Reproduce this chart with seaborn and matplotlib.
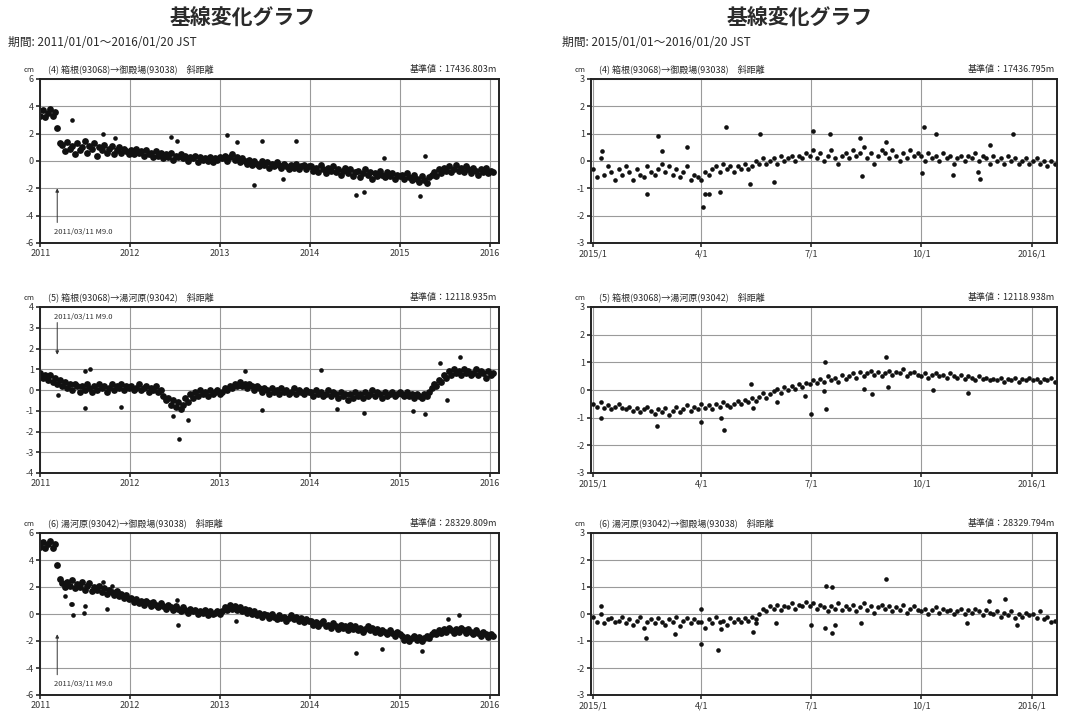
import numpy as np
import pandas as pd
import matplotlib
matplotlib.use("Agg")
import matplotlib.pyplot as plt
import seaborn as sns

# ---------------- data ----------------
TITLE = "基線変化グラフ"
PERIOD_LEFT = "期間: 2011/01/01～2016/01/20 JST"
PERIOD_RIGHT = "期間: 2015/01/01～2016/01/20 JST"

panel_names = ["(4) 箱根(93068)→御殿場(93038)　斜距離",
               "(5) 箱根(93068)→湯河原(93042)　斜距離",
               "(6) 湯河原(93042)→御殿場(93038)　斜距離"]
base_left = ["基準値：17436.803m", "基準値：12118.935m", "基準値：28329.809m"]
base_right = ["基準値：17436.795m", "基準値：12118.938m", "基準値：28329.794m"]

quake_label = "2011/03/11 M9.0"
quake_date = "2011-03-11"

year_ticks = ["2011", "2012", "2013", "2014", "2015", "2016"]
month_ticks = ["2015-01-01", "2015-04-01", "2015-07-01", "2015-10-01", "2016-01-01"]
month_labels = ["2015/1", "4/1", "7/1", "10/1", "2016/1"]

# left panels: one value every 10 days from 2011-01-01 (cm)
long_4 = [3.3, 3.7, 3.2, 3.5, 3.8, 3.3, 3.6, 2.4, 1.3,
          1.2, 0.7, 1.4, 0.9, 1.1, 0.5, 1.3, 0.8, 1.0, 1.5, 0.6, 1.1, 0.9, 1.3, 0.4,
          1.0, 0.8, 1.2, 0.6, 0.9, 1.1, 0.5, 0.8, 1.0, 0.6, 0.9, 0.7, 0.5,
          0.8, 0.5, 0.9, 0.6, 0.7, 0.4, 0.8, 0.5, 0.6, 0.3, 0.7, 0.4, 0.6, 0.2, 0.5,
          0.3, 0.6, 0.1, 0.4, 0.3, 0.5, 0.2, 0.4, 0.0, 0.3, 0.2, 0.4, -0.1, 0.3, 0.1,
          0.2, 0.0, 0.3, -0.1, 0.2, 0.1, 0.3,
          0.2, 0.4, 0.0, 0.3, 0.5, 0.1, 0.3, -0.1, 0.2, 0.0, -0.2, 0.1, -0.3, 0.0, -0.2,
          -0.4, 0.0, -0.3, -0.1, -0.5, -0.2, -0.4, -0.1, -0.3, -0.5, -0.2, -0.4, -0.6,
          -0.3, -0.5, -0.2, -0.6, -0.4, -0.3, -0.6, -0.4,
          -0.4, -0.7, -0.5, -0.8, -0.3, -0.6, -0.9, -0.5, -0.7, -0.4, -0.8, -0.6, -1.0,
          -0.7, -0.5, -0.9, -0.6, -1.1, -0.8, -0.7, -1.2, -0.9, -0.6, -1.0, -0.8, -1.3,
          -0.9, -1.1, -0.7, -1.0, -1.2, -0.8, -1.1, -0.9, -1.3, -1.0, -1.1,
          -1.0, -1.3, -0.9, -1.2, -1.4, -1.0, -1.3, -1.5, -1.1, -1.4, -1.6, -1.2, -1.0,
          -0.8, -1.1, -0.6, -0.9, -0.5, -0.7, -0.4, -0.8, -0.6, -0.3, -0.7, -0.5, -0.8,
          -0.4, -0.6, -0.9, -0.5, -0.7, -1.0, -0.6, -0.8, -0.5, -0.9, -0.7, -0.8]
long_5 = [0.8, 0.6, 0.7, 0.5, 0.7, 0.4, 0.6, 0.3, 0.5, 0.2, 0.4, 0.1, 0.3, 0.0, 0.3,
          0.2, -0.1, 0.2, 0.0, 0.3, 0.1, -0.1, 0.2, 0.0, 0.3, 0.1, 0.2, -0.1, 0.1, 0.3,
          0.0, 0.2, 0.1, 0.3, 0.0, 0.2, 0.1,
          0.2, 0.0, 0.1, 0.3, 0.0, 0.1, 0.2, -0.1, 0.1, 0.0, 0.2, -0.1, 0.0, -0.3, -0.5,
          -0.4, -0.7, -0.5, -0.8, -0.6, -0.9, -0.7, -0.4, -0.6, -0.2, -0.4, -0.1, -0.3,
          0.0, -0.2, -0.1, -0.3, 0.0, -0.2, -0.1, 0.0, -0.2,
          -0.1, 0.1, 0.0, 0.2, 0.1, 0.3, 0.2, 0.4, 0.2, 0.3, 0.1, 0.3, 0.2, 0.0, 0.2,
          0.1, -0.1, 0.1, 0.0, -0.2, 0.1, -0.1, 0.0, -0.2, 0.1, -0.1, 0.0, -0.2, -0.1,
          0.1, -0.2, 0.0, -0.1, -0.2, 0.0, -0.1,
          -0.1, -0.3, 0.0, -0.2, -0.1, -0.3, -0.2, 0.0, -0.3, -0.1, -0.2, -0.4, -0.1,
          -0.3, -0.2, -0.5, -0.2, -0.4, -0.1, -0.3, -0.2, -0.4, -0.1, -0.3, -0.2, 0.0,
          -0.3, -0.1, -0.2, -0.4, -0.1, -0.3, -0.2, -0.1, -0.3, -0.2, -0.1,
          -0.2, -0.3, -0.1, -0.3, -0.2, -0.4, -0.2, -0.3, -0.4, -0.2, -0.3, -0.1, 0.1,
          0.3, 0.2, 0.5, 0.4, 0.7, 0.6, 0.9, 0.7, 1.0, 0.8, 0.9, 0.7, 1.0, 0.8, 0.9,
          0.7, 0.8, 1.0, 0.7, 0.9, 0.8, 0.6, 0.9, 0.7, 0.8]
long_6 = [5.0, 5.3, 4.9, 5.2, 5.4, 4.9, 5.2, 3.6, 2.6,
          2.3, 2.0, 2.4, 2.1, 2.5, 1.9, 2.2, 2.0, 2.4, 1.8, 2.1, 2.3, 1.7, 2.0, 1.8,
          2.1, 1.6, 1.9, 1.5, 1.8, 1.6, 1.4, 1.7, 1.3, 1.5, 1.2, 1.4, 1.1,
          1.2, 0.9, 1.1, 0.8, 1.0, 0.7, 1.0, 0.8, 0.6, 0.9, 0.7, 0.5, 0.8, 0.6, 0.4,
          0.7, 0.5, 0.3, 0.6, 0.4, 0.2, 0.5, 0.3, 0.1, 0.4, 0.2, 0.3, 0.0, 0.2, 0.1,
          0.3, -0.1, 0.2, 0.0, 0.1, 0.2, 0.0,
          0.2, 0.5, 0.3, 0.7, 0.4, 0.6, 0.3, 0.5, 0.2, 0.4, 0.1, 0.3, 0.0, 0.2, -0.1,
          0.1, -0.2, 0.0, -0.1, -0.3, 0.0, -0.2, -0.4, -0.1, -0.3, -0.2, -0.5, -0.3,
          -0.1, -0.4, -0.2, -0.5, -0.3, -0.6, -0.4, -0.5,
          -0.5, -0.8, -0.6, -0.9, -0.7, -0.5, -0.9, -0.8, -1.0, -0.7, -0.9, -1.1, -0.8,
          -1.0, -0.9, -1.2, -0.8, -1.1, -0.9, -1.2, -1.0, -1.3, -1.1, -0.9, -1.2, -1.0,
          -1.3, -1.1, -1.4, -1.2, -1.3, -1.5, -1.2, -1.4, -1.6, -1.3, -1.5,
          -1.6, -1.9, -1.7, -2.0, -1.8, -1.6, -1.9, -1.7, -2.0, -1.8, -1.6, -1.8, -1.5,
          -1.3, -1.5, -1.2, -1.4, -1.1, -1.3, -1.0, -1.2, -1.4, -1.1, -1.3, -1.0, -1.2,
          -1.4, -1.1, -1.3, -1.5, -1.2, -1.4, -1.6, -1.3, -1.5, -1.7, -1.5, -1.6]

# left panel outliers (date, cm)
long_4_out_d = ["2011-05-08", "2011-09-13", "2011-10-30", "2012-06-15", "2012-07-08",
                "2013-01-30", "2013-03-10", "2013-06-18", "2013-11-05", "2013-05-18",
                "2013-09-12", "2014-07-08", "2014-08-10", "2015-03-22", "2014-10-28",
                "2015-04-12"]
long_4_out_v = [3.0, 2.0, 1.7, 1.75, 1.5, 1.9, 1.4, 1.5, 1.45, -1.75, -1.3, -2.5,
                -2.3, -2.55, 0.25, 0.4]
long_5_out_d = ["2011-07-01", "2011-07-24", "2011-07-02", "2011-11-25", "2011-03-15",
                "2012-06-25", "2012-07-16", "2012-08-25", "2013-04-10", "2013-06-18",
                "2014-02-14", "2014-04-20", "2014-08-08", "2015-02-25", "2015-04-12",
                "2015-07-10", "2015-09-02", "2015-06-14"]
long_5_out_v = [0.9, 1.0, -0.85, -0.8, -0.25, -1.25, -2.35, -1.45, 0.9, -0.95, 0.95,
                -0.9, -1.1, -1.0, -1.15, -0.5, 1.6, 1.3]
long_6_out_d = ["2011-04-12", "2011-05-05", "2011-05-10", "2011-05-16", "2011-06-28",
                "2011-06-30", "2011-10-01", "2011-09-13", "2011-10-20", "2012-07-12",
                "2012-07-08", "2013-03-05", "2014-07-08", "2014-10-20", "2015-04-01",
                "2015-07-14", "2015-08-30"]
long_6_out_v = [1.35, 0.75, 0.75, -0.05, 0.1, 0.6, 0.4, 2.4, 2.1, -0.85, 1.05, -0.55,
                -2.9, -2.6, -2.75, -0.4, -0.1]

# right panels: one value every 3 days from 2015-01-01 (cm)
short_4 = [-0.3, -0.6, 0.1, -0.5, -0.2, -0.4, -0.7, -0.3, -0.5, -0.2,
           -0.4, -0.7, -0.3, -0.5, -0.6, -0.2, -0.4, -0.5, -0.3, -0.1,
           -0.4, -0.2, -0.5, -0.3, -0.6, -0.4, -0.2, -0.7, -0.5, -0.6,
           -0.7, -0.4, -0.5, -0.3, -0.2, -0.4, -0.1, -0.3, -0.2, -0.4,
           -0.2, -0.3, -0.1, -0.3, -0.2, 0.0, -0.1, 0.1, -0.1, 0.0,
           0.1, -0.1, 0.2, 0.0, 0.1, 0.2, 0.0, 0.2, 0.1, 0.3,
           0.2, 0.4, 0.1, 0.3, 0.0, 0.2, 0.4, 0.1, -0.1, 0.2, 0.3,
           0.1, 0.4, 0.2, 0.3, 0.5, 0.1, 0.3, -0.1, 0.2, 0.4,
           0.3, 0.1, 0.4, 0.2, 0.0, 0.3, 0.1, 0.4, 0.2, 0.3,
           0.2, 0.0, 0.3, 0.1, 0.2, 0.0, 0.3, 0.1, 0.2, -0.1,
           0.1, 0.2, 0.0, 0.2, 0.1, 0.3, 0.0, 0.2, 0.1, -0.1,
           0.2, 0.0, 0.1, -0.1, 0.2, 0.0, 0.1, -0.1, 0.0, 0.1, -0.1,
           0.0, 0.1, -0.1, 0.0, -0.2, 0.0, -0.1]
short_5 = [-0.5, -0.6, -0.45, -0.65, -0.55, -0.7, -0.6, -0.5, -0.65, -0.7,
           -0.6, -0.75, -0.65, -0.8, -0.7, -0.6, -0.75, -0.85, -0.7, -0.8,
           -0.65, -0.9, -0.75, -0.6, -0.8, -0.7, -0.55, -0.75, -0.6, -0.7,
           -0.5, -0.65, -0.55, -0.7, -0.5, -0.6, -0.45, -0.55, -0.6, -0.5,
           -0.4, -0.5, -0.35, -0.45, -0.3, -0.4, -0.25, -0.1, -0.3, -0.15,
           -0.05, 0.05, -0.1, 0.1, 0.0, 0.15, 0.05, 0.2, 0.1, 0.25,
           0.2, 0.35, 0.25, 0.4, 0.3, 0.5, 0.35, 0.45, 0.3, 0.55, 0.4,
           0.5, 0.6, 0.45, 0.65, 0.5, 0.6, 0.7, 0.55, 0.65, 0.5,
           0.6, 0.7, 0.55, 0.65, 0.6, 0.75, 0.5, 0.6, 0.65, 0.55,
           0.5, 0.6, 0.45, 0.55, 0.6, 0.5, 0.55, 0.45, 0.6, 0.5,
           0.45, 0.55, 0.4, 0.5, 0.45, 0.35, 0.5, 0.4, 0.45, 0.35,
           0.4, 0.35, 0.45, 0.3, 0.4, 0.35, 0.45, 0.3, 0.4, 0.35, 0.45,
           0.35, 0.4, 0.3, 0.4, 0.35, 0.45, 0.3]
short_6 = [-0.1, -0.3, 0.0, -0.35, -0.2, -0.15, -0.3, -0.25, -0.1, -0.35,
           -0.2, -0.4, -0.25, -0.1, -0.5, -0.3, -0.2, -0.35, -0.15, -0.3,
           -0.4, -0.2, -0.3, -0.1, -0.45, -0.25, -0.15, -0.35, -0.2, -0.3,
           -0.3, -0.5, -0.2, -0.35, -0.1, -0.3, -0.25, -0.4, -0.15, -0.3,
           -0.2, -0.3, -0.15, -0.25, -0.1, -0.2, 0.0, 0.2, 0.1, 0.3,
           0.2, 0.35, 0.15, 0.3, 0.25, 0.4, 0.2, 0.35, 0.3, 0.45,
           0.3, 0.4, 0.2, 0.35, 0.25, 0.1, 0.3, 0.2, 0.4, 0.15, 0.3,
           0.2, 0.35, 0.1, 0.25, 0.4, 0.15, 0.3, 0.05, 0.25, 0.35,
           0.2, 0.3, 0.1, 0.25, 0.15, 0.35, 0.05, 0.2, 0.3, 0.15,
           0.1, 0.2, 0.0, 0.15, 0.25, 0.05, 0.2, 0.1, 0.15, 0.0,
           0.1, 0.2, 0.0, 0.15, 0.05, 0.2, 0.1, -0.05, 0.15, 0.05,
           0.0, 0.1, -0.1, 0.05, -0.05, 0.1, -0.15, 0.0, -0.1, 0.05, -0.05,
           0.0, -0.15, 0.1, -0.2, -0.1, -0.3, -0.25]

# right panel outliers (day of period from 2015-01-01, cm)
short_4_out_day = [7, 45, 54, 57, 78, 91, 93, 96, 105, 110, 139, 130, 150, 183, 197,
                   222, 224, 244, 274, 275, 285, 299, 322, 320, 349, 330]
short_4_out_v = [0.35, -1.2, 0.9, 0.35, 0.5, -1.7, -1.2, -1.2, -1.15, 1.25, 1.0,
                 -0.85, -0.75, 1.1, 1.0, 0.85, -0.55, 0.7, -0.45, 1.25, 1.0, -0.5,
                 -0.65, -0.4, 1.0, 0.6]
short_5_out_day = [6, 53, 90, 106, 109, 131, 133, 153, 176, 181, 193, 194, 192, 225,
                   232, 244, 245, 283, 312]
short_5_out_v = [-1.0, -1.3, -1.15, -1.0, -1.45, 0.2, -0.65, -0.45, -0.2, -0.85, 1.0,
                 -0.7, -0.05, 0.05, -0.15, 1.2, 0.1, 0.0, -0.1]
short_6_out_day = [6, 44, 68, 90, 90, 104, 106, 133, 135, 152, 181, 194, 199, 193,
                   199, 201, 244, 223, 311, 329, 343, 353]
short_6_out_v = [0.3, -0.9, -0.75, 0.2, -1.1, -1.35, -0.55, -0.65, -0.35, -0.35, -0.4,
                 1.05, 1.0, -0.5, -0.7, -0.4, 1.3, -0.35, -0.35, 0.5, 0.55, -0.4]

left_ylims = [(-6, 6, 2), (-4, 4, 1), (-6, 6, 2)]
quake_spec = [(-2.0, -5.2, "up"), (1.7, 3.5, "down"), (-1.5, -5.2, "up")]

# ---------------- style ----------------
sns.set_theme(style="white")
plt.rcParams["font.family"] = ["Noto Sans CJK JP", "DejaVu Sans"]
plt.rcParams["axes.unicode_minus"] = False

W, H = 1067, 718
fig = plt.figure(figsize=(W / 100, H / 100), dpi=100)
fig.patch.set_facecolor("white")

def add_ax(x0, x1, ytop, ybot):
    return fig.add_axes([x0 / W, 1 - ybot / H, (x1 - x0) / W, (ybot - ytop) / H])

rows = [(79, 243), (307, 473), (533, 695)]
LX = (40, 499)
RX = (591, 1057)
INK = "#2a2a2a"

def style_ax(ax):
    for s in ax.spines.values():
        s.set_linewidth(1.4)
        s.set_color("#222222")
    ax.grid(True, color="#9a9a9a", linewidth=0.8)
    ax.set_axisbelow(True)
    ax.tick_params(axis="both", which="major", labelsize=6.5, length=3,
                   direction="out", color="#333333", pad=1.5, labelcolor="#333333",
                   left=True, bottom=True)
    ax.set_xlabel("")
    ax.set_ylabel("")

long_data = [long_4, long_5, long_6]
long_out = [(long_4_out_d, long_4_out_v), (long_5_out_d, long_5_out_v),
            (long_6_out_d, long_6_out_v)]
short_data = [short_4, short_5, short_6]
short_out = [(short_4_out_day, short_4_out_v), (short_5_out_day, short_5_out_v),
             (short_6_out_day, short_6_out_v)]

for r, (ytop, ybot) in enumerate(rows):
    # ---- left: long period ----
    ax = add_ax(LX[0], LX[1], ytop, ybot)
    vals = long_data[r]
    df = pd.DataFrame({"date": pd.date_range("2011-01-01", periods=len(vals), freq="10D"),
                       "cm": vals})
    od, ov = long_out[r]
    df_o = pd.DataFrame({"date": pd.to_datetime(od), "cm": ov})
    sns.scatterplot(data=df, x="date", y="cm", ax=ax, color="#111111", s=24,
                    linewidth=0)
    sns.scatterplot(data=df_o, x="date", y="cm", ax=ax, color="#111111", s=11,
                    linewidth=0)
    lo, hi, st = left_ylims[r]
    ax.set_ylim(lo, hi)
    ax.set_yticks(np.arange(lo, hi + 0.01, st))
    ax.set_yticklabels([f"{int(v)}" for v in np.arange(lo, hi + 0.01, st)])
    ax.set_xlim(pd.Timestamp("2010-12-31"), pd.Timestamp("2016-02-08"))
    ax.set_xticks([pd.Timestamp(y + "-01-01") for y in year_ticks])
    ax.set_xticklabels(year_ticks)
    style_ax(ax)
    # earthquake marker
    qd = pd.Timestamp(quake_date)
    y_tip, y_txt, dirn = quake_spec[r]
    ax.annotate("", xy=(qd, y_tip), xytext=(qd, y_txt + (0.35 if dirn == "up" else -0.25) * st),
                arrowprops=dict(arrowstyle="-|>", color="#333333", lw=0.7,
                                mutation_scale=5, shrinkA=0, shrinkB=0))
    ax.text(qd - pd.Timedelta(days=14), y_txt, quake_label, fontsize=5.5,
            color="#333333", va="center", ha="left")
    # header
    fig.text((LX[0] - 16) / W, 1 - (ytop - 9) / H, "cm", fontsize=5.5, va="center",
             ha="left", color=INK)
    fig.text((LX[0] + 8) / W, 1 - (ytop - 10) / H, panel_names[r], fontsize=6.5,
             va="center", ha="left", color=INK)
    fig.text((LX[1] - 2) / W, 1 - (ytop - 10) / H, base_left[r], fontsize=6.5,
             va="center", ha="right", color=INK)

    # ---- right: short period ----
    ax = add_ax(RX[0], RX[1], ytop, ybot)
    vals = short_data[r]
    df = pd.DataFrame({"date": pd.date_range("2015-01-01", periods=len(vals), freq="3D"),
                       "cm": vals})
    oday, ov = short_out[r]
    df_o = pd.DataFrame({"date": pd.Timestamp("2015-01-01") + pd.to_timedelta(oday, unit="D"),
                         "cm": ov})
    sns.scatterplot(data=df, x="date", y="cm", ax=ax, color="#111111", s=11,
                    linewidth=0)
    sns.scatterplot(data=df_o, x="date", y="cm", ax=ax, color="#111111", s=11,
                    linewidth=0)
    ax.set_ylim(-3, 3)
    ax.set_yticks(range(-3, 4))
    ax.set_yticklabels([str(v) for v in range(-3, 4)])
    ax.set_xlim(pd.Timestamp("2014-12-30"), pd.Timestamp("2016-01-22"))
    ax.set_xticks(pd.to_datetime(month_ticks))
    ax.set_xticklabels(month_labels)
    style_ax(ax)
    fig.text((RX[0] - 16) / W, 1 - (ytop - 9) / H, "cm", fontsize=5.5, va="center",
             ha="left", color=INK)
    fig.text((RX[0] + 8) / W, 1 - (ytop - 10) / H, panel_names[r], fontsize=6.5,
             va="center", ha="left", color=INK)
    fig.text((RX[1] - 2) / W, 1 - (ytop - 10) / H, base_right[r], fontsize=6.5,
             va="center", ha="right", color=INK)

# titles
fig.text(243 / W, 1 - 17 / H, TITLE, fontsize=15, ha="center", va="center",
         color=INK, fontweight="bold")
fig.text(800 / W, 1 - 17 / H, TITLE, fontsize=15, ha="center", va="center",
         color=INK, fontweight="bold")
fig.text(8 / W, 1 - 42 / H, PERIOD_LEFT, fontsize=8.5, ha="left", va="center", color=INK)
fig.text(562 / W, 1 - 42 / H, PERIOD_RIGHT, fontsize=8.5, ha="left", va="center", color=INK)

fig.savefig("out.png", dpi=100, facecolor="white")
